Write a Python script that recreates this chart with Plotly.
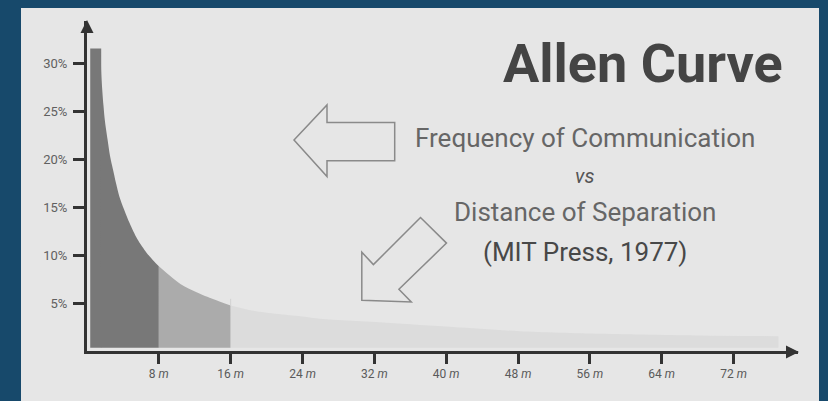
import plotly.graph_objects as go

# ---------------- data ----------------
distance_m = [0.36, 1.55, 1.58, 1.84, 2.0, 2.29, 2.56, 3.03, 3.24, 3.62, 4.73, 5.6,
              6.65, 7.48, 8.0, 10.4, 12.2, 14.1, 16.0, 18.5, 24.0, 26.0, 33.4, 40.8,
              48.2, 57.2, 68.3, 77.0]
frequency_pct = [31.6, 31.6, 29.1, 25.6, 24.0, 22.1, 20.4, 18.4, 17.5, 16.1, 13.4, 11.7,
                 10.25, 9.35, 8.85, 7.0, 6.14, 5.4, 4.75, 4.2, 3.6, 3.36, 2.95, 2.5,
                 2.07, 1.8, 1.62, 1.55]
zone_edges_m = [0, 8, 16, 80]
zone_colors = ["#787878", "#ababab", "#dcdcdc"]

x_tick_vals = [8, 16, 24, 32, 40, 48, 56, 64, 72]
x_tick_text = [f"{v} <i>m</i>" for v in x_tick_vals]
y_tick_vals = [5, 10, 15, 20, 25, 30]
y_tick_text = [f"{v}%" for v in y_tick_vals]

title_text = "Allen Curve"
subtitle_lines = ["Frequency of Communication", "<i>vs</i>",
                  "Distance of Separation", "(MIT Press, 1977)"]

# ---------------- layout geometry ----------------
W, H = 828, 401
OFF = 8  # page offset of the figure inside the browser window
X0_SCR, X1_SCR, Y0_SCR, Y1_SCR = 87, 798, 21, 351
ML = X0_SCR - OFF
MR = W - (X1_SCR - OFF)
MT = Y0_SCR - OFF
MB = H - (Y1_SCR - OFF)
PW, PH = W - ML - MR, H - MT - MB
X_RANGE = [0, 79.18]
Y_RANGE = [0, 34.48]
BASE = 0.35  # small gap between fill and axis line

BG_BLUE = "#17496b"
AXIS_COLOR = "#333333"
FONT = "Roboto"


def px(p):
    return (p - X0_SCR) / PW


def py(p):
    return (Y1_SCR - p) / PH


def path_from_px(points, close=True):
    s = "M " + " L ".join(f"{px(a):.5f},{py(b):.5f}" for a, b in points)
    return s + (" Z" if close else "")


fig = go.Figure()

peak = max(frequency_pct)
plateau = [(d, f) for d, f in zip(distance_m, frequency_pct) if f == peak]
px_start = plateau[0][0]
px_end = distance_m[len(plateau)]
fig.add_trace(go.Scatter(
    x=[px_start, px_end, px_end, px_start],
    y=[peak, peak, BASE, BASE],
    fill="toself", fillcolor=zone_colors[0], mode="lines",
    line=dict(width=0, color=zone_colors[0]), hoverinfo="skip", showlegend=False))

curve = list(zip(distance_m, frequency_pct))[len(plateau) - 1:]
for lo, hi, col in zip(zone_edges_m[:-1], zone_edges_m[1:], zone_colors):
    seg = [(d, f) for d, f in curve if lo <= d <= hi]
    xs = [d for d, _ in seg]
    ys = [f for _, f in seg]
    fig.add_trace(go.Scatter(
        x=[xs[0], xs[-1]], y=[BASE, BASE], mode="lines",
        line=dict(width=0, color=col), hoverinfo="skip", showlegend=False))
    fig.add_trace(go.Scatter(
        x=xs, y=ys, fill="tonexty", fillcolor=col, mode="lines",
        line=dict(width=0, color=col, shape="spline", smoothing=0.8),
        hoverinfo="skip", showlegend=False))

shapes = []
shapes.append(dict(type="rect", xref="paper", yref="paper", layer="below",
                   x0=px(21), x1=px(819), y0=py(430), y1=py(7),
                   fillcolor="#e6e6e6", line=dict(width=0)))
shapes.append(dict(type="line", xref="x", yref="y", layer="above",
                   x0=16, x1=16, y0=4.7, y1=5.45,
                   line=dict(color="#d2d2d2", width=1)))
shapes.append(dict(type="path", xref="paper", yref="paper", layer="above",
                   path=path_from_px([(87, 20), (80.5, 33), (93.5, 33)]),
                   fillcolor=AXIS_COLOR, line=dict(width=0)))
shapes.append(dict(type="path", xref="paper", yref="paper", layer="above",
                   path=path_from_px([(799, 352), (786, 345.5), (786, 358.5)]),
                   fillcolor=AXIS_COLOR, line=dict(width=0)))
left_arrow = [(294, 140), (327, 105), (327, 122.4), (394.7, 122.4),
              (394.7, 160.8), (327, 160.8), (327, 176.6)]
diag_arrow = [(361.8, 300.3), (361.8, 252.2), (373.4, 264.6), (420.5, 217.5),
              (446.5, 243.1), (398.9, 289.2), (411.3, 302)]
for pts in (left_arrow, diag_arrow):
    shapes.append(dict(type="path", xref="paper", yref="paper", layer="above",
                       path=path_from_px(pts),
                       fillcolor="rgba(0,0,0,0)", line=dict(color="#8a8a8a", width=1.5)))

annotations = []
annotations.append(dict(text=f"<b>{title_text}</b>", xref="paper", yref="paper",
                        x=px(642.5), y=py(63), xanchor="center", yanchor="middle",
                        showarrow=False, font=dict(family=FONT, size=54, color="#444444")))
sub_y = [138, 176, 212, 252]
sub_size = [26, 20, 26, 26]
sub_color = ["#666666", "#555555", "#666666", "#484848"]
for txt, yy, sz, cc in zip(subtitle_lines, sub_y, sub_size, sub_color):
    annotations.append(dict(text=txt, xref="paper", yref="paper",
                            x=px(584.5), y=py(yy), xanchor="center", yanchor="middle",
                            showarrow=False, font=dict(family=FONT, size=sz, color=cc)))

fig.update_layout(
    width=W, height=H,
    margin=dict(l=ML, r=MR, t=MT, b=MB, pad=0),
    paper_bgcolor=BG_BLUE,
    plot_bgcolor="rgba(0,0,0,0)",
    shapes=shapes,
    annotations=annotations,
    showlegend=False,
    xaxis=dict(range=X_RANGE, tickvals=x_tick_vals, ticktext=x_tick_text,
               showgrid=False, zeroline=False, showline=True, linecolor=AXIS_COLOR,
               linewidth=3, ticks="outside", ticklen=10, tickwidth=3,
               tickcolor=AXIS_COLOR, fixedrange=True,
               tickfont=dict(family=FONT, size=12, color="#5a5a5a")),
    yaxis=dict(range=Y_RANGE, tickvals=y_tick_vals, ticktext=y_tick_text,
               showgrid=False, zeroline=False, showline=True, linecolor=AXIS_COLOR,
               linewidth=3, ticks="outside", ticklen=11, tickwidth=3,
               tickcolor=AXIS_COLOR, fixedrange=True, ticklabelstandoff=3,
               tickfont=dict(family=FONT, size=13, color="#606060")),
)

page_bg_js = (f"document.documentElement.style.background='{BG_BLUE}';"
              f"document.body.style.background='{BG_BLUE}';")
fig.write_html("out.html", post_script=page_bg_js)
